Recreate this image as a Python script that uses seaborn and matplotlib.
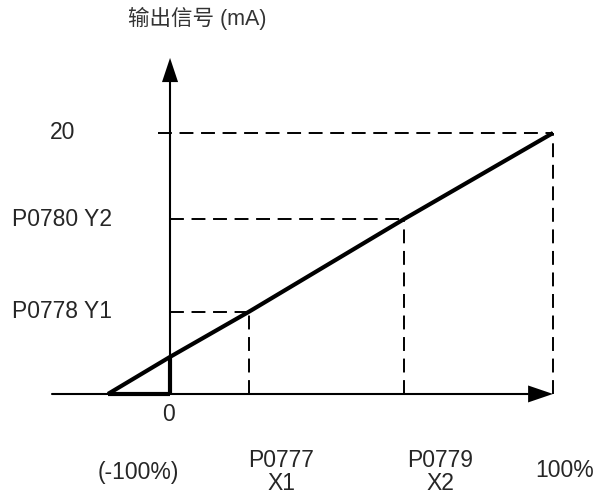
import numpy as np
import pandas as pd
import matplotlib
matplotlib.use("Agg")
import matplotlib.pyplot as plt
import seaborn as sns

# schematic values (x in % of input, y in mA)
signal_pct = [-16.2, 0.0, 20.6, 61.1, 100.0]
output_ma = [0.0, 2.84, 6.3, 13.4, 20.0]
x1, x2, x_max = 20.6, 61.1, 100.0
y1, y2, y_max = 6.3, 13.4, 20.0

y_labels = ["20", "P0780 Y2", "P0778 Y1"]
x_labels = ["(-100%)", "P0777\nX1", "P0779\nX2", "100%"]
title = "输出信号 (mA)"


def main():
    sns.set_theme(style="white")
    plt.rcParams["font.family"] = ["Liberation Sans", "Noto Sans CJK SC", "DejaVu Sans"]
    plt.rcParams["lines.scale_dashes"] = False

    fig = plt.figure(figsize=(5.98, 4.96), dpi=100)
    ax = fig.add_axes([0, 0, 1, 1])
    ax.set_xlim(-44.4, 111.75)
    ax.set_ylim(-7.82, 30.19)
    ax.axis("off")

    dash = (0, (10, 5.5))
    kw = dict(color="black", lw=1.4, linestyle=dash)

    # dashed guides
    ax.hlines(y_max, -3.1, x_max, **kw)
    ax.vlines(x_max, 0, y_max, **kw)
    ax.hlines(y2, 0, x2, **kw)
    ax.vlines(x2, 0, y2, **kw)
    ax.hlines(y1, 0, x1, **kw)
    ax.vlines(x1, 0, y1, **kw)

    # axes with arrowheads
    ax.plot([-30.8, 93.5], [0, 0], color="black", lw=1.5)
    ax.plot([0, 0], [0, 23.9], color="black", lw=1.5)
    ax.fill([93.5, 100.0, 93.5], [-0.65, 0, 0.65], color="black", lw=0)
    ax.fill([-2.1, 0, 2.1], [23.9, 25.75, 23.9], color="black", lw=0)

    # characteristic
    df = pd.DataFrame({"pct": signal_pct, "ma": output_ma})
    sns.lineplot(data=df, x="pct", y="ma", color="black", lw=3, ax=ax,
                 solid_capstyle="butt")
    ax.plot([signal_pct[0], 0], [0, 0], color="black", lw=3, solid_capstyle="butt")
    ax.plot([0, 0], [0, output_ma[1]], color="black", lw=3, solid_capstyle="butt")

    fs = 16.5
    ax.text(-28.1, y_max, y_labels[0], ha="center", va="center", fontsize=fs)
    ax.text(-15.1, y2, y_labels[1], ha="right", va="center", fontsize=fs)
    ax.text(-15.1, y1, y_labels[2], ha="right", va="center", fontsize=fs)
    ax.text(-0.5, -1.61, "0", ha="center", va="center", fontsize=fs)

    ax.text(-8.36, -6.05, x_labels[0], ha="center", va="center", fontsize=fs)
    ax.text(29.0, -6.0, x_labels[1], ha="center", va="center", fontsize=fs,
            linespacing=0.98)
    ax.text(70.5, -6.0, x_labels[2], ha="center", va="center", fontsize=fs,
            linespacing=0.98)
    ax.text(103.1, -5.9, x_labels[3], ha="center", va="center", fontsize=fs)

    ax.text(7.05, 28.8, title, ha="center", va="center", fontsize=15.5, color="#333333")

    fig.savefig("out.png", dpi=100)
    plt.close(fig)


if __name__ == "__main__":
    main()
